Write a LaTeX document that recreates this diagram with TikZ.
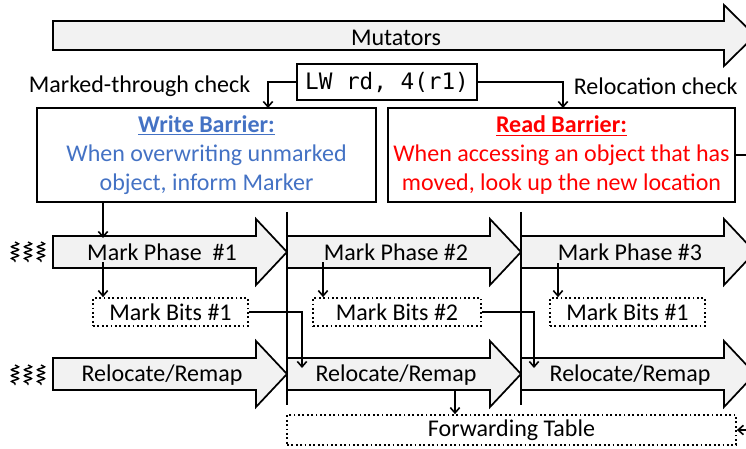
\documentclass[tikz,border=0pt]{standalone}
\usepackage{fontspec}
\setmainfont{Carlito}
\newfontfamily\codefont{DejaVu Sans Mono}
\usetikzlibrary{arrows.meta,decorations.pathmorphing}

\definecolor{wbblue}{HTML}{4472C4}
\definecolor{rbred}{HTML}{FF0000}
\definecolor{phasefill}{HTML}{F2F2F2}

\newcommand{\phasearrow}[2]{%
  \draw[phase] (#1,#2-16) -- ++(203,0) -- ++(0,-17) -- ++(31,33) -- ++(-31,33) -- ++(0,-17) -- ++(-203,0) -- cycle;}
\newcommand{\threads}[1]{%
  \foreach \tx in {15,28,41} \draw[thread] (\tx,#1-10) -- (\tx,#1+10);}

\begin{document}
\begin{tikzpicture}[x=0.75pt,y=-0.75pt,line width=1.3pt,
  font=\fontsize{18}{21.5}\selectfont,
  phase/.style={draw,fill=phasefill,line join=miter},
  conn/.style={-{Straight Barb[length=4pt,width=7pt]},line width=1.2pt},
  thread/.style={line width=1.1pt,decorate,decoration={snake,segment length=4.4pt,amplitude=2.6pt}},
  codebox/.style={draw,minimum width=135pt,minimum height=27pt,inner sep=0pt},
  barrier/.style={draw,align=center,minimum height=70.5pt,inner sep=0pt},
  bits/.style={draw,dotted,minimum height=21pt,inner sep=0pt},
  lbl/.style={inner sep=0pt}]
\useasboundingbox (0,0) rectangle (746,449);
\clip (0,0) rectangle (746,449);

\draw[phase] (53,21) -- (724,21) -- (724,5) -- (755,35.5) -- (724,66) -- (724,50) -- (53,50) -- cycle;
\node[lbl] (mut) at (396,38) {Mutators};

\node[codebox] (lw) at (387,82) {\fontsize{17}{20}\codefont LW rd, 4(r1)};
\node[lbl,anchor=west] (mtc) at (28,86) {Marked-through check};
\node[lbl,anchor=west] (rlc) at (573,86) {Relocation check};

\node[barrier,minimum width=254.25pt,text=wbblue] (wb) at (206.5,155)
  {\underline{\textbf{Write Barrier:}}\\When overwriting unmarked\\object, inform Marker};
\node[barrier,minimum width=260.25pt,text=rbred] (rb) at (561.5,155)
  {\underline{\textbf{Read Barrier:}}\\When accessing an object that has\\moved, look up the new location};

\coordinate (lwL) at (268,108);
\coordinate (lwR) at (563,108);
\draw[conn] (lw.west) -| (lwL);
\draw[conn] (lw.east) -| (lwR);

\draw (287,212) -- (287,405);
\draw (521,212) -- (521,405);

\phasearrow{53}{252}
\phasearrow{287}{252}
\phasearrow{521}{252}
\phasearrow{53}{374}
\phasearrow{287}{374}
\phasearrow{521}{374}
\threads{252}
\threads{375}

\node[lbl] (mp1) at (162,252) {Mark Phase~~\#1};
\node[lbl] (mp2) at (396,252) {Mark Phase \#2};
\node[lbl] (mp3) at (630,252) {Mark Phase \#3};
\node[lbl] (rr1) at (162,375) {Relocate/Remap};
\node[lbl] (rr2) at (396,375) {Relocate/Remap};
\node[lbl] (rr3) at (630,375) {Relocate/Remap};

\node[bits,minimum width=116.25pt] (mb1) at (170.5,312) {Mark Bits \#1};
\node[bits,minimum width=126pt] (mb2) at (397,312) {Mark Bits \#2};
\node[bits,minimum width=116.25pt] (mb3) at (627.5,312) {Mark Bits \#1};
\node[bits,minimum width=336.75pt,minimum height=22.5pt] (ft) at (511.5,430) {\raisebox{-1.5pt}{Forwarding Table}};

\coordinate (wbout) at (103,202);
\coordinate (mp1in) at (103,238);
\draw[conn] (wbout) -- (mp1in);

\coordinate (mp1out) at (103,262);
\coordinate (mp2out) at (323,262);
\coordinate (mp3out) at (558,263);
\draw[conn] (mp1out) -- (mp1out |- mb1.north);
\draw[conn] (mp2out) -- (mp2out |- mb2.north);
\draw[conn] (mp3out) -- (mp3out |- mb3.north);

\coordinate (rr2in) at (302,368);
\coordinate (rr3in) at (534,368);
\draw[conn] (mb1.east) -| (rr2in);
\draw[conn] (mb2.east) -| (rr3in);

\coordinate (rr2out) at (455,389);
\draw[conn] (rr2out) -- (rr2out |- ft.north);

\coordinate (rbfar) at (762,155);
\draw[conn] (rb.east) -- (rbfar) |- (ft.east);
\end{tikzpicture}
\end{document}
